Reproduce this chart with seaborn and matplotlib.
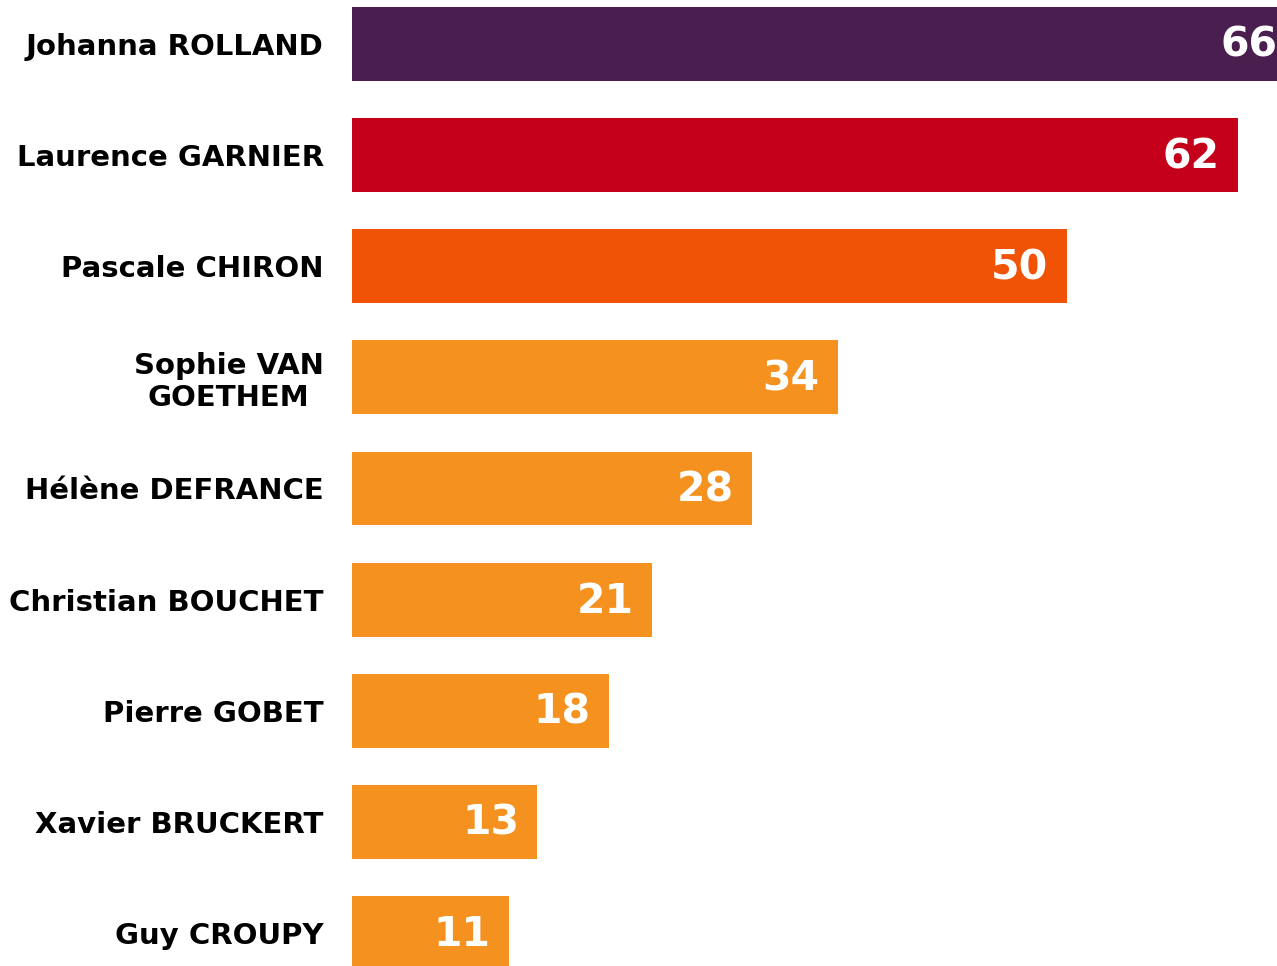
import matplotlib
matplotlib.use("Agg")
import matplotlib.pyplot as plt
import seaborn as sns
import pandas as pd

names = ["Johanna ROLLAND", "Laurence GARNIER", "Pascale CHIRON", "Sophie VAN\nGOETHEM",
         "Hélène DEFRANCE", "Christian BOUCHET", "Pierre GOBET", "Xavier BRUCKERT", "Guy CROUPY"]
values = [66, 62, 50, 34, 28, 21, 18, 13, 11]
colors = ["#4B1E50", "#C4001A", "#F05206", "#F5921F", "#F5921F", "#F5921F", "#F5921F", "#F5921F", "#F5921F"]

sns.set_theme(style="white")
plt.rcParams['font.family'] = ['DejaVu Sans']

df = pd.DataFrame({"name": names, "value": values})

fig = plt.figure(figsize=(12.77, 9.66), dpi=100)
ax = fig.add_axes([351.5 / 1277, 0, 1 - 351.5 / 1277, 1])

sns.barplot(data=df, x="value", y="name", hue="name", palette=colors, legend=False,
            orient="h", width=0.665, saturation=1, ax=ax, edgecolor="none", linewidth=0)

ax.set_xlim(0, (1277 - 351.5) / 14.3)
ax.set_ylim(len(names) - 1 + 0.297, -0.3955)

for i, v in enumerate(values):
    ax.annotate(str(v), xy=(v, i), xytext=(-18, -2), textcoords="offset pixels",
                ha="right", va="center", color="white", fontsize=29.5, fontweight="bold",
                annotation_clip=False)

ax.set_xlabel("")
ax.set_ylabel("")
ax.set_xticks([])
ax.tick_params(axis="y", length=0, pad=20)
ax.set_yticks(range(len(names)))
ax.set_yticklabels(names, fontsize=21, fontweight="bold", color="black",
                   multialignment="center", linespacing=1.15)
for s in ax.spines.values():
    s.set_visible(False)

fig.savefig("out.png", dpi=100)
